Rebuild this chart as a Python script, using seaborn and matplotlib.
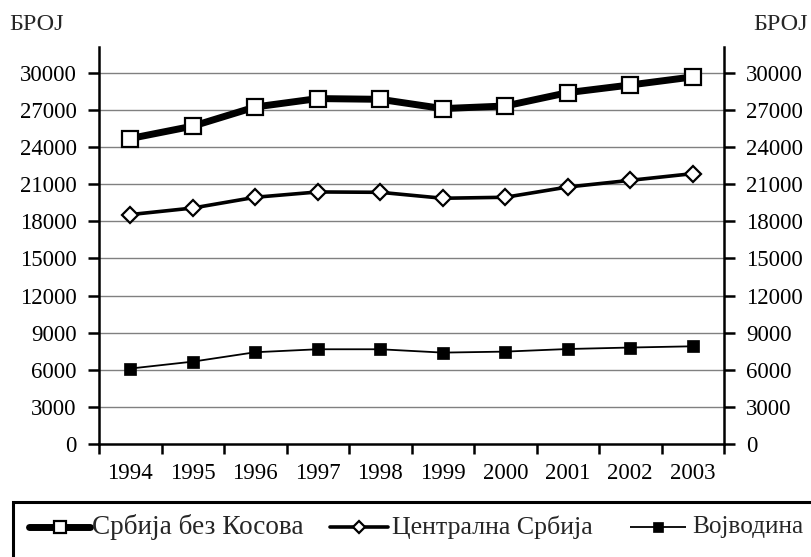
import numpy as np
import pandas as pd
import matplotlib
matplotlib.use("Agg")
import matplotlib.pyplot as plt
from matplotlib.lines import Line2D
from matplotlib.patches import Rectangle
import seaborn as sns

# ---- data ----
years = ["1994", "1995", "1996", "1997", "1998", "1999", "2000", "2001", "2002", "2003"]
srbija_bez_kosova = [24700, 25700, 27250, 27930, 27870, 27120, 27330, 28410, 29030, 29680]
centralna_srbija = [18550, 19080, 19950, 20380, 20350, 19870, 19950, 20780, 21320, 21860]
vojvodina = [6100, 6660, 7420, 7660, 7660, 7390, 7470, 7680, 7800, 7900]
series_names = ["Србија без Косова", "Централна Србија", "Војводина"]
y_ticks = [0, 3000, 6000, 9000, 12000, 15000, 18000, 21000, 24000, 27000, 30000]
axis_label = "БРОЈ"

sns.set_theme(style="white")
plt.rcParams["font.family"] = ["Liberation Serif", "DejaVu Serif"]

W, H = 811, 557
fig = plt.figure(figsize=(W / 100, H / 100), dpi=100)
fx = lambda x: x / W
fy = lambda y: 1 - y / H

ax = fig.add_axes([fx(99), fy(444), fx(724) - fx(99), fy(47) - fy(444)])

pos = np.arange(len(years))
df = pd.DataFrame({"pos": pos, "s1": srbija_bez_kosova, "s2": centralna_srbija, "s3": vojvodina})

styles = {
    "s1": dict(lw=5.0, marker="s", ms=11.5, mfc="white", mec="black", mew=1.6),
    "s2": dict(lw=2.6, marker="D", ms=8.5, mfc="white", mec="black", mew=1.6),
    "s3": dict(lw=1.3, marker="s", ms=9, mfc="black", mec="black", mew=0.5),
}
leg_ms = {"s1": 8.5, "s2": 6.5, "s3": 6.5}
for key in ["s3", "s2", "s1"]:
    st = styles[key]
    sns.lineplot(data=df, x="pos", y=key, ax=ax, color="black", linewidth=st["lw"],
                 marker=st["marker"], markersize=st["ms"], markerfacecolor=st["mfc"],
                 markeredgecolor=st["mec"], markeredgewidth=st["mew"],
                 solid_joinstyle="round", zorder=3)

ax.set_xlim(-0.5, len(years) - 0.5)
ax.set_ylim(0, 32100)
ax.set_xlabel("")
ax.set_ylabel("")

# grid
for v in y_ticks[1:]:
    ax.axhline(v, color="#808080", lw=1.0, zorder=1)

ax.set_yticks(y_ticks)
ax.set_yticklabels([str(v) for v in y_ticks])
ax.set_xticks(np.arange(len(years) + 1) - 0.5)
ax.set_xticklabels([""] * (len(years) + 1))
ax.set_xticks(pos, minor=True)
ax.set_xticklabels(years, minor=True)

ax.tick_params(axis="y", which="major", direction="out", length=8, width=1.8,
               left=True, right=True, labelleft=True, labelright=True,
               labelsize=16.5, pad=8, colors="black")
ax.tick_params(axis="x", which="major", direction="out", length=7, width=1.8,
               bottom=True, colors="black")
ax.tick_params(axis="x", which="minor", length=0, labelsize=16.5, pad=14, colors="black")

for side in ["left", "right", "bottom"]:
    ax.spines[side].set_visible(True)
    ax.spines[side].set_color("black")
    ax.spines[side].set_linewidth(1.8)
ax.spines["top"].set_visible(False)

fig.text(fx(9), fy(24), axis_label, fontsize=17.5, ha="left", va="center")
fig.text(fx(808), fy(25), axis_label, fontsize=17.5, ha="right", va="center")

# legend box
fig.add_artist(Rectangle((fx(12.7), fy(600)), fx(900) - fx(12.7), fy(502) - fy(600),
                         transform=fig.transFigure, fill=False, ec="black", lw=2.2,
                         clip_on=False))

leg_y = fy(527)
handles = [(29, 90, 92, 211), (330, 388, 392, 201), (630, 686, 692, 111)]
keys = ["s1", "s2", "s3"]
renderer = fig.canvas.get_renderer()
for (x0, x1, tx, tw), key, name in zip(handles, keys, series_names):
    st = styles[key]
    fig.add_artist(Line2D([fx(x0), fx(x1)], [leg_y, leg_y], transform=fig.transFigure,
                          color="black", lw=st["lw"], solid_capstyle="round" if key != "s3" else "butt"))
    fig.add_artist(Line2D([fx((x0 + x1) / 2)], [leg_y], transform=fig.transFigure,
                          marker=st["marker"], ms=leg_ms[key], mfc=st["mfc"], mec=st["mec"],
                          mew=st["mew"], ls="none"))
    t = fig.text(fx(tx), leg_y, name, fontsize=18, ha="left", va="center")
    w = t.get_window_extent(renderer).width
    t.set_fontsize(18 * tw / w)

fig.savefig("out.png", dpi=100)
